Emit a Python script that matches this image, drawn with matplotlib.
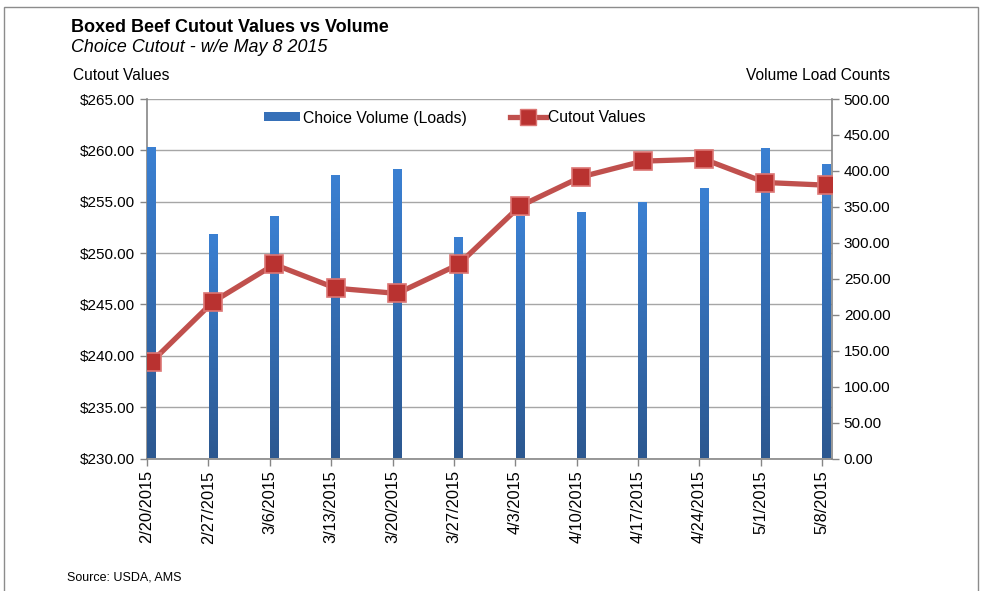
import numpy as np
import matplotlib
matplotlib.use("Agg")
import matplotlib.pyplot as plt
from matplotlib.patches import Patch, Rectangle
from matplotlib.lines import Line2D
from matplotlib.colors import LinearSegmentedColormap
from matplotlib.transforms import ScaledTranslation

plt.rcParams['font.family'] = ['Liberation Sans', 'DejaVu Sans']

# ==========================================================
# DATOS
# ==========================================================

semanas = ["2/20/2015", "2/27/2015", "3/6/2015", "3/13/2015", "3/20/2015",
           "3/27/2015", "4/3/2015", "4/10/2015", "4/17/2015", "4/24/2015",
           "5/1/2015", "5/8/2015"]

volumen = [432, 311, 336, 393, 401, 307, 336, 341, 356, 375, 430, 408]

cutout = [239.41, 245.25, 248.89, 246.58, 246.07, 248.89,
          254.57, 257.42, 258.95, 259.14, 256.87, 256.61]

ticks_izq = [230, 235, 240, 245, 250, 255, 260, 265]
ticks_der = [0, 50, 100, 150, 200, 250, 300, 350, 400, 450, 500]

# ==========================================================
# FIGURA
# ==========================================================

fig = plt.figure(figsize=(9.82, 5.91), dpi=100)

# marco exterior
fig.patches.append(Rectangle((4 / 982, -0.05), 974 / 982, 1.05 - 7 / 591,
                             transform=fig.transFigure, fill=False,
                             edgecolor="#8c8c8c", linewidth=1.0))

ax = fig.add_axes([147 / 982, 1 - 458.5 / 591, 685 / 982, 359.5 / 591])
ax2 = ax.twinx()
ax3 = ax.twinx()

gris = "#868686"
n = len(semanas)
pos = np.arange(n)
desp = 0.075
xmax = 11.16

# ---------------- eje izquierdo / rejilla ----------------
ax.set_xlim(0, xmax)
ax.set_ylim(230, 265)
ax.set_yticks(ticks_izq)
ax.set_yticklabels(["${:.2f}".format(v) for v in ticks_izq], fontsize=11)
ax.grid(axis="y", color="#a6a6a6", linewidth=1.0)
ax.set_axisbelow(True)
ax.set_xticks(pos)
ax.set_xticklabels(semanas, rotation=90, fontsize=11.8)
offset = ScaledTranslation(4 / 100, 0, fig.dpi_scale_trans)
for lbl in ax.get_xticklabels():
    lbl.set_transform(lbl.get_transform() + offset)
ax.tick_params(axis="both", colors=gris, labelcolor="black",
               length=5, width=1, direction="out")
for lado in ["left", "bottom"]:
    ax.spines[lado].set_color(gris)
    ax.spines[lado].set_linewidth(1.2)
ax.spines["top"].set_visible(False)
ax.spines["right"].set_visible(False)

# ---------------- barras de volumen ----------------
ax2.set_ylim(0, 500)
ax2.set_yticks(ticks_der)
ax2.set_yticklabels(["{:.2f}".format(v) for v in ticks_der], fontsize=11)
ax2.tick_params(axis="y", colors=gris, labelcolor="black",
                length=5, width=1, direction="out")
ax2.spines["right"].set_color(gris)
ax2.spines["right"].set_linewidth(1.2)
for lado in ["left", "top", "bottom"]:
    ax2.spines[lado].set_visible(False)

cmap_barra = LinearSegmentedColormap.from_list("barra", ["#2c5890", "#3b80d2"])
gradiente = np.linspace(0, 1, 256).reshape(-1, 1)
ancho = 0.14
for x, v in zip(pos + desp, volumen):
    ax2.imshow(gradiente, extent=[x - ancho / 2, x + ancho / 2, 0, v],
               origin="lower", cmap=cmap_barra, aspect="auto", zorder=2)
ax2.set_xlim(0, xmax)
ax2.set_ylim(0, 500)

# ---------------- linea de cutout ----------------
ax3.plot(pos + desp, cutout, color="#c0504d", linewidth=3.8,
         marker="s", markersize=13.5, markerfacecolor="#b93230",
         markeredgecolor="#dc7674", markeredgewidth=1.2, zorder=5)
ax3.set_xlim(0, xmax)
ax3.set_ylim(230, 265)
ax3.set_yticks([])
for lado in ax3.spines:
    ax3.spines[lado].set_visible(False)

# ---------------- leyenda ----------------
manejadores = [
    Patch(facecolor="#3670b8", edgecolor="none"),
    Line2D([0], [0], color="#c0504d", linewidth=3.8, marker="s",
           markersize=11, markerfacecolor="#b93230",
           markeredgecolor="#dc7674"),
]
fig.legend(manejadores, ["Choice Volume (Loads)", "Cutout Values"],
           loc="center", bbox_to_anchor=(455 / 982, 1 - 118 / 591), ncol=2,
           frameon=False, fontsize=11.3, handlelength=2.3, handleheight=0.5,
           handletextpad=0.15, columnspacing=2.75)

# ---------------- textos ----------------
fig.text(71 / 982, 1 - 27 / 591, "Boxed Beef Cutout Values vs Volume",
         fontsize=13, fontweight="bold", va="center", ha="left")
fig.text(71 / 982, 1 - 48 / 591, "Choice Cutout - w/e May 8 2015",
         fontsize=12.9, fontstyle="italic", va="center", ha="left")
fig.text(73 / 982, 1 - 75 / 591, "Cutout Values",
         fontsize=11.2, va="center", ha="left")
fig.text(890 / 982, 1 - 75 / 591, "Volume Load Counts",
         fontsize=11.2, va="center", ha="right")
fig.text(67 / 982, 1 - 577 / 591, "Source: USDA, AMS",
         fontsize=9, va="center", ha="left")

fig.savefig("out.png", dpi=100)
